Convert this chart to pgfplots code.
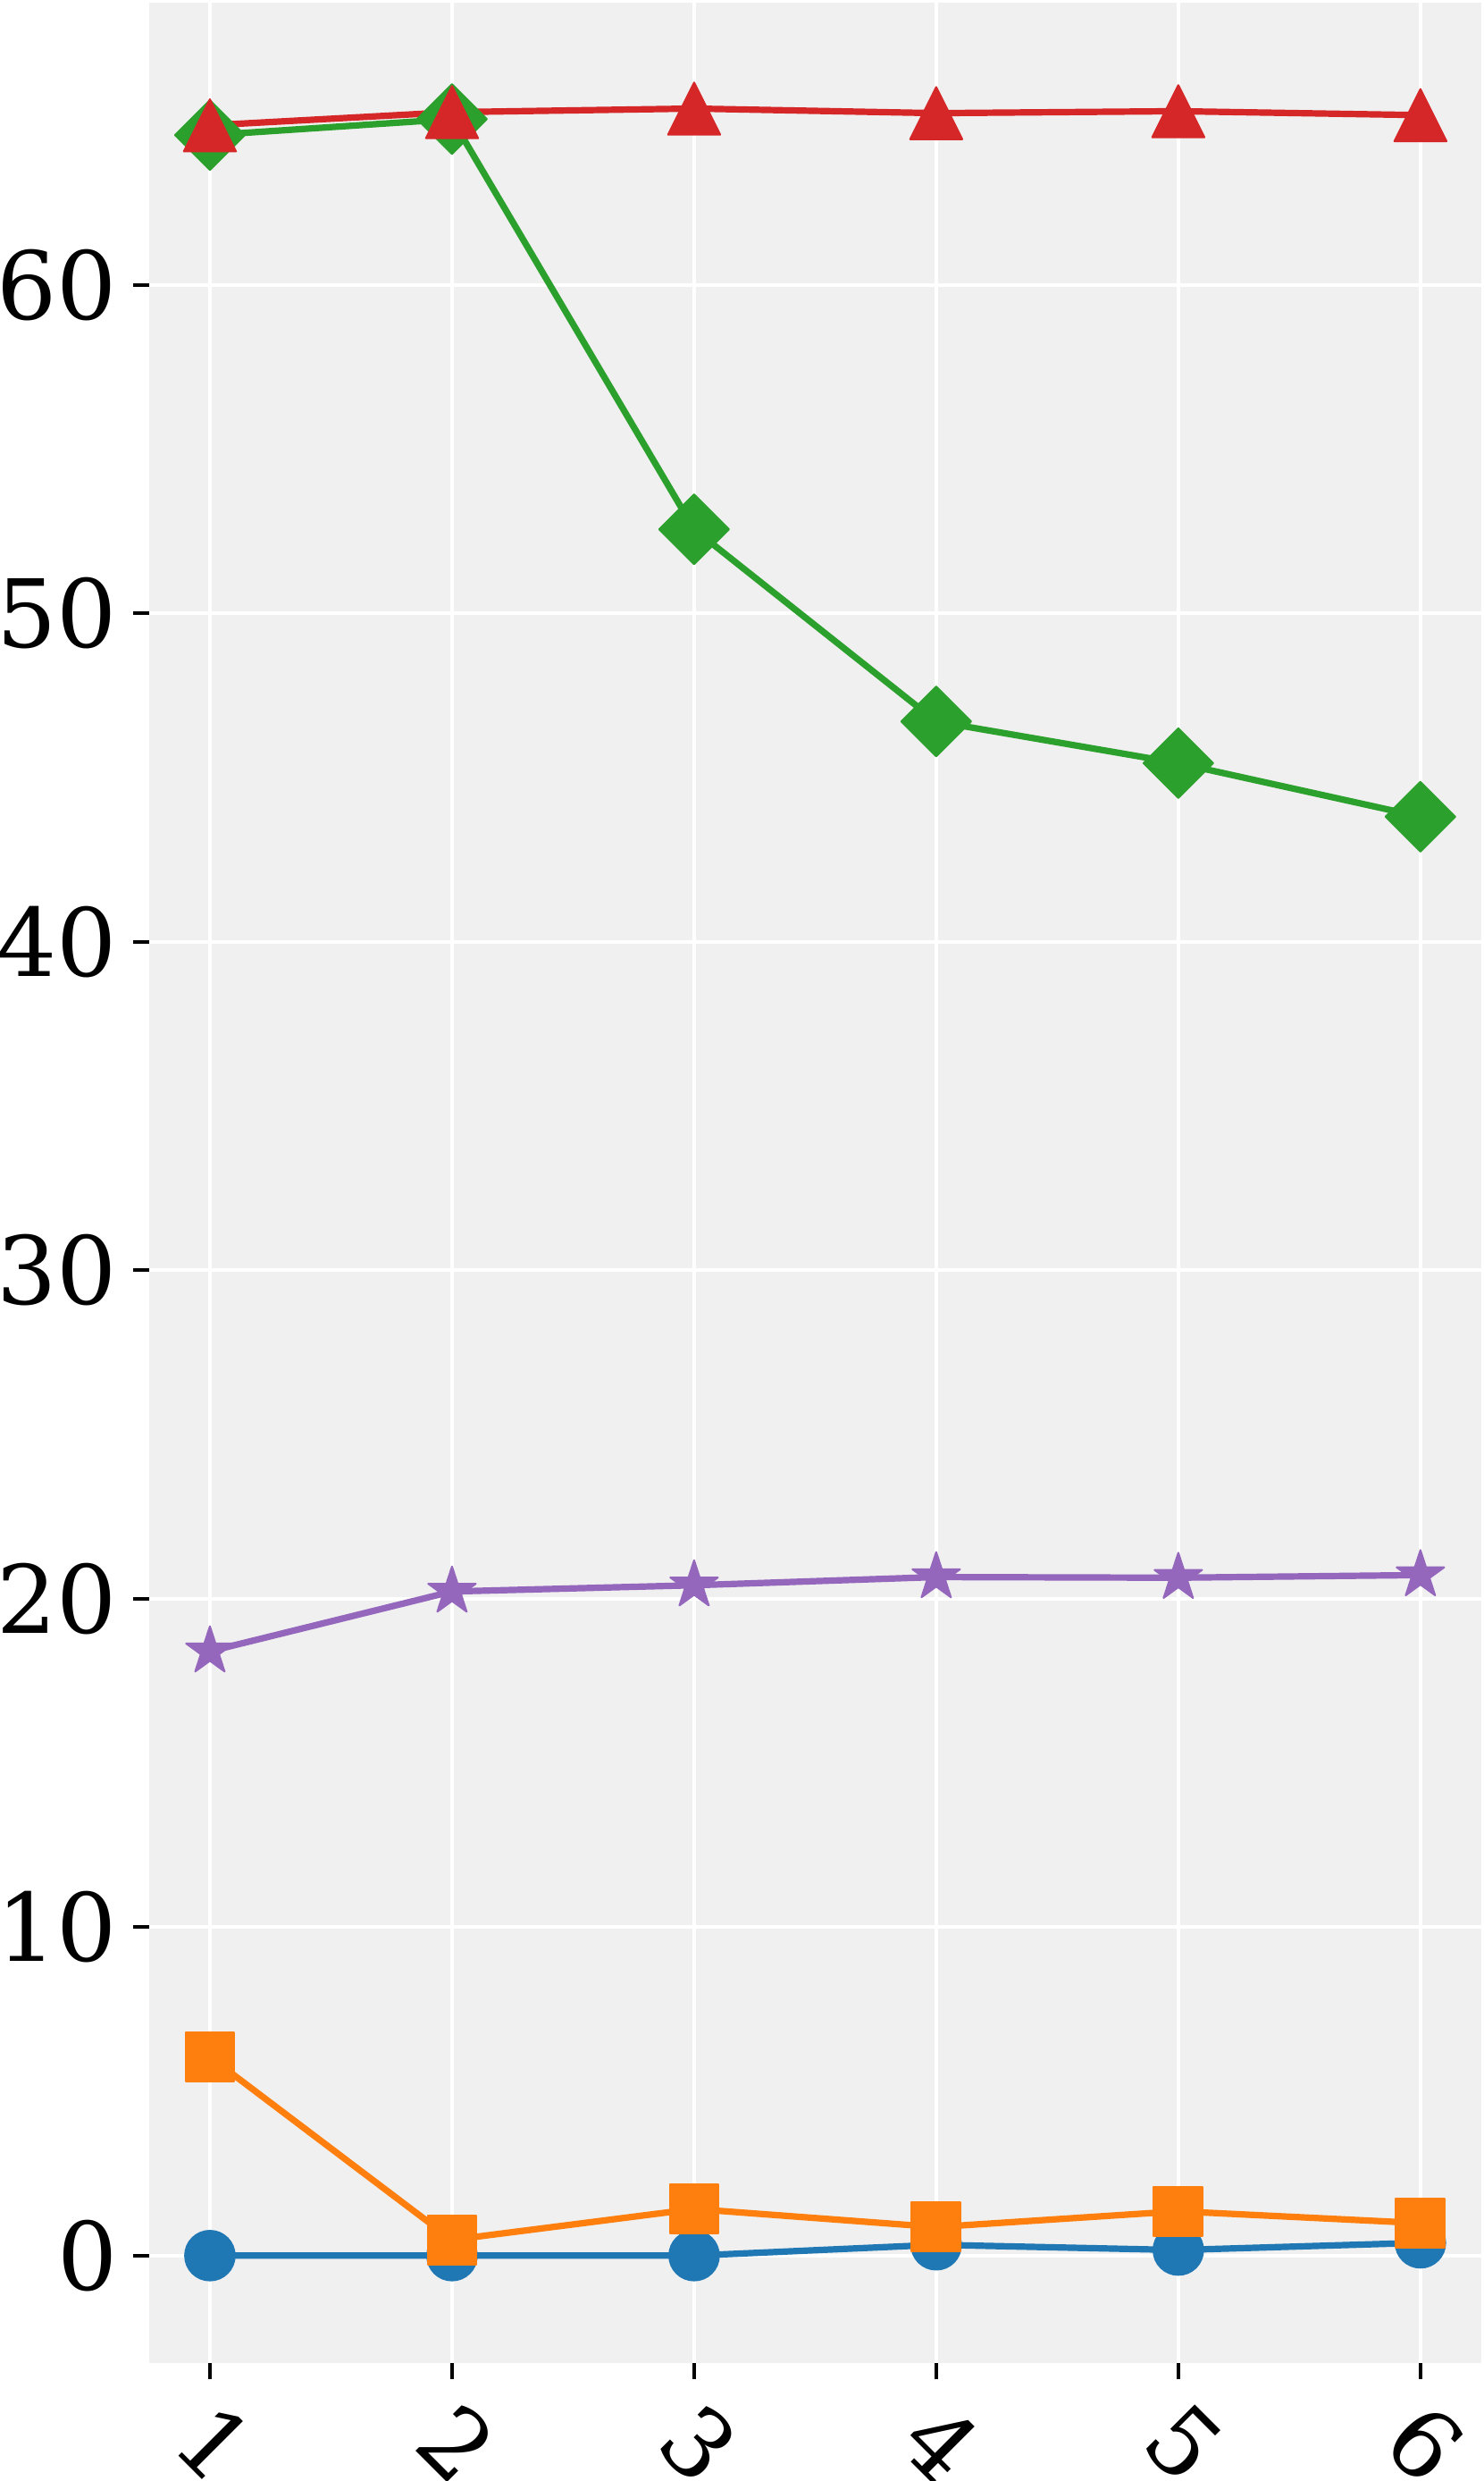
\documentclass[border=0pt]{standalone}
\usepackage{pgfplots}
\pgfplotsset{compat=1.18}
\usepackage{fontspec}
\setmainfont{DejaVu Serif}
\definecolor{cblue}{HTML}{1F77B4}
\definecolor{corange}{HTML}{FF7F0E}
\definecolor{cgreen}{HTML}{2CA02C}
\definecolor{cred}{HTML}{D62728}
\definecolor{cpurple}{HTML}{9467BD}
\definecolor{bgc}{RGB}{240,240,240}
\pgfdeclareplotmark{mpltri}{%
  \pgfpathmoveto{\pgfqpoint{0pt}{\pgfplotmarksize}}%
  \pgfpathlineto{\pgfqpoint{\pgfplotmarksize}{-\pgfplotmarksize}}%
  \pgfpathlineto{\pgfqpoint{-\pgfplotmarksize}{-\pgfplotmarksize}}%
  \pgfpathclose\pgfusepathqfillstroke}
\pgfdeclareplotmark{mplstar}{%
  \pgfpathmoveto{\pgfpointpolar{90}{\pgfplotmarksize}}%
  \pgfpathlineto{\pgfpointpolar{126}{0.381966\pgfplotmarksize}}%
  \pgfpathlineto{\pgfpointpolar{162}{\pgfplotmarksize}}%
  \pgfpathlineto{\pgfpointpolar{198}{0.381966\pgfplotmarksize}}%
  \pgfpathlineto{\pgfpointpolar{234}{\pgfplotmarksize}}%
  \pgfpathlineto{\pgfpointpolar{270}{0.381966\pgfplotmarksize}}%
  \pgfpathlineto{\pgfpointpolar{306}{\pgfplotmarksize}}%
  \pgfpathlineto{\pgfpointpolar{342}{0.381966\pgfplotmarksize}}%
  \pgfpathlineto{\pgfpointpolar{18}{\pgfplotmarksize}}%
  \pgfpathlineto{\pgfpointpolar{54}{0.381966\pgfplotmarksize}}%
  \pgfpathclose\pgfusepathqfillstroke}
\begin{document}
\begin{tikzpicture}
\begin{axis}[
  at={(0,0)}, anchor=south west,
  scale only axis, width=372.6pt, height=660.3pt,
  xmin=0.75, xmax=6.25, ymin=-3.27, ymax=68.6,
  xtick={1,2,3,4,5,6}, ytick={0,10,20,30,40,50,60},
  tick pos=left, tick align=outside, major tick length=4.5pt,
  tick style={black, line width=1pt},
  axis line style={draw=none},
  axis background/.style={fill=bgc},
  grid=major, grid style={white, line width=1pt},
  every tick label/.append style={font=\fontsize{26.4}{30}\selectfont},
  /pgf/number format/assume math mode=true,
  xticklabel style={anchor=center, inner sep=0pt, yshift=-17.9pt, xshift=1.5pt, rotate=-45},
  yticklabel style={anchor=east, inner sep=0pt, xshift=-4.3pt},
  clip=false,
  every axis plot/.append style={line width=1.8pt, line join=round},
]
\addplot[cblue, mark=*, mark size=6.95pt, mark options={solid, fill=cblue, line width=0.5pt}]
  coordinates {(1,0) (2,0) (3,0) (4,0.33) (5,0.17) (6,0.39)};
\addplot[corange, mark=square*, mark size=6.85pt, mark options={solid, fill=corange, line width=0.5pt}]
  coordinates {(1,6.05) (2,0.48) (3,1.42) (4,0.87) (5,1.35) (6,0.99)};
\addplot[cgreen, mark=square*, mark size=6.9pt, mark options={solid, rotate=45, fill=cgreen, line width=0.5pt}]
  coordinates {(1,64.56) (2,65.05) (3,52.56) (4,46.71) (5,45.44) (6,43.81)};
\addplot[cred, mark=mpltri, mark size=7.3pt, mark options={solid, fill=cred, line width=0.5pt}]
  coordinates {(1,64.86) (2,65.26) (3,65.37) (4,65.23) (5,65.29) (6,65.17)};
\addplot[cpurple, mark=mplstar, mark size=7pt, mark options={solid, fill=cpurple, line width=0.5pt}]
  coordinates {(1,18.40) (2,20.22) (3,20.41) (4,20.66) (5,20.64) (6,20.72)};
\end{axis}
\pgfresetboundingbox
\path[use as bounding box] (-41.8pt,-33pt) rectangle (373.4pt,661pt);
\end{tikzpicture}
\end{document}
